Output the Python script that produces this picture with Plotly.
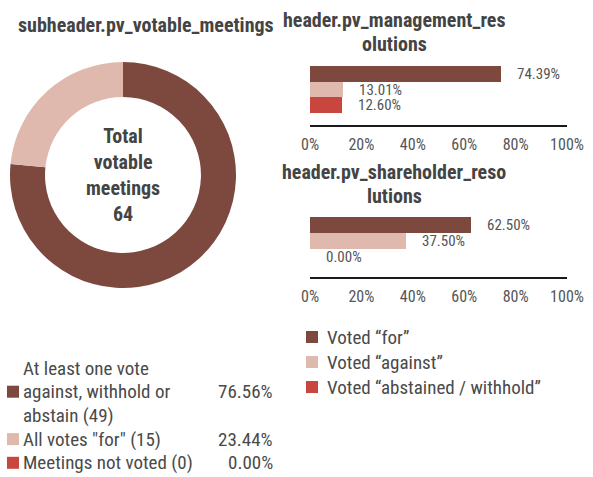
import plotly.graph_objects as go

# ---------------- data ----------------
pie_title = "subheader.pv_votable_meetings"
pie_labels = ["At least one vote<br>against, withhold or<br>abstain (49)",
              'All votes "for" (15)',
              "Meetings not voted (0)"]
pie_values = [49, 15, 0]
center_label = "Total<br>votable<br>meetings"

bar_categories = ["Voted “for”", "Voted “against”", "Voted “abstained / withhold”"]
mgmt_title = ["header.pv_management_res", "olutions"]
mgmt_values = [74.39, 13.01, 12.60]
sh_title = ["header.pv_shareholder_reso", "lutions"]
sh_values = [62.50, 37.50, 0.00]
tick_vals = [0, 20, 40, 60, 80, 100]
tick_text = ["0%", "20%", "40%", "60%", "80%", "100%"]

# ---------------- style ----------------
W, H = 593, 477
FONT = "Roboto Condensed, Liberation Sans Narrow, sans-serif"
TXT = "#4a4a4a"
colors = ["#7d493f", "#e0b9ae", "#c8463e"]


def px(x):
    return x / W


def py(y):
    return 1 - y / H


fig = go.Figure()

# donut
cx, cy, r = 123, 175, 113
fig.add_trace(go.Pie(
    values=pie_values, labels=[l.replace("<br>", " ") for l in pie_labels],
    hole=0.69, sort=False, direction="clockwise", rotation=0,
    marker=dict(colors=colors, line=dict(width=0)),
    textinfo="none", showlegend=False, automargin=False,
    domain=dict(x=[px(cx - r), px(cx + r)], y=[py(cy + r), py(cy - r)]),
))

# bar charts
ys = list(range(len(bar_categories)))
fig.add_trace(go.Bar(x=mgmt_values, y=ys, orientation="h", width=1,
                     marker=dict(color=colors, line=dict(width=0)),
                     showlegend=False, xaxis="x", yaxis="y"))
fig.add_trace(go.Bar(x=sh_values, y=ys, orientation="h", width=1,
                     marker=dict(color=colors, line=dict(width=0)),
                     showlegend=False, xaxis="x2", yaxis="y2"))

x_dom = [px(310), px(567)]
xax = dict(domain=x_dom, range=[0, 100], showgrid=False, zeroline=False,
           showline=True, linecolor="#1a1a1a", linewidth=2, automargin=False,
           tickmode="array", tickvals=tick_vals, ticktext=tick_text, ticks="",
           ticklabelstandoff=4,
           tickfont=dict(family=FONT, size=16, color="#555"), fixedrange=True)
yax = dict(range=[3.25, -0.5], showgrid=False, zeroline=False, automargin=False,
           showticklabels=False, showline=False, ticks="", fixedrange=True)

fig.update_layout(
    width=W, height=H, autosize=False,
    margin=dict(l=0, r=0, t=0, b=0, pad=0, autoexpand=False),
    paper_bgcolor="white", plot_bgcolor="white",
    font=dict(family=FONT, color=TXT),
    bargap=0,
    xaxis=dict(xax, anchor="y"),
    yaxis=dict(yax, domain=[py(125), py(66)], anchor="x"),
    xaxis2=dict(xax, anchor="y2"),
    yaxis2=dict(yax, domain=[py(277), py(217)], anchor="x2"),
)

ann = []
shapes = []

# titles
ann.append(dict(text="<b>" + pie_title + "</b>", x=px(146), y=py(25), xref="paper", yref="paper",
                showarrow=False, xanchor="center", yanchor="middle",
                font=dict(size=20, color="#444")))
for lines, y0 in ((mgmt_title, 20), (sh_title, 172)):
    for i, t in enumerate(lines):
        ann.append(dict(text="<b>" + t + "</b>", x=px(394), y=py(y0 + i * 24),
                        xref="paper", yref="paper", showarrow=False,
                        xanchor="center", yanchor="middle",
                        font=dict(size=20, color="#444")))

# donut center text
total = sum(pie_values)
ann.append(dict(text="<b>" + center_label + "<br>" + str(total) + "</b>",
                x=px(cx), y=py(cy), xref="paper", yref="paper", showarrow=False,
                xanchor="center", yanchor="middle",
                font=dict(size=20, color="#444")))

# bar value labels
for vals, xa, ya in ((mgmt_values, "x", "y"), (sh_values, "x2", "y2")):
    for i, v in enumerate(vals):
        ann.append(dict(text=f"{v:.2f}%", x=v, y=i, xref=xa, yref=ya,
                        showarrow=False, xanchor="left", yanchor="middle",
                        xshift=14, font=dict(size=15, color="#555")))

# bar legend
for i, (cat, c) in enumerate(zip(bar_categories, colors)):
    yc = 337 + i * 25
    shapes.append(dict(type="rect", xref="paper", yref="paper",
                       x0=px(306), x1=px(318), y0=py(yc + 6), y1=py(yc - 6),
                       fillcolor=c, line=dict(width=0)))
    ann.append(dict(text=cat, x=px(325), y=py(yc), xref="paper", yref="paper",
                    showarrow=False, xanchor="left", yanchor="middle",
                    font=dict(size=19, color=TXT)))

# donut legend
line_step = 23.7
yl = 368
for lab, v, c in zip(pie_labels, pie_values, colors):
    lines = lab.split("<br>")
    mid = yl + (len(lines) - 1) / 2 * line_step
    for j, t in enumerate(lines):
        ann.append(dict(text=t, x=px(21), y=py(yl + j * line_step), xref="paper", yref="paper",
                        showarrow=False, xanchor="left", yanchor="middle",
                        font=dict(size=19, color=TXT)))
    shapes.append(dict(type="rect", xref="paper", yref="paper",
                       x0=px(7), x1=px(19), y0=py(mid + 6), y1=py(mid - 6),
                       fillcolor=c, line=dict(width=0)))
    pct = v / total * 100 if total else 0
    ann.append(dict(text=f"{pct:.2f}%", x=px(275), y=py(mid), xref="paper", yref="paper",
                    showarrow=False, xanchor="right", yanchor="middle",
                    font=dict(size=19, color=TXT)))
    yl += len(lines) * line_step

fig.update_layout(annotations=ann, shapes=shapes)
fig.write_html("out.html", config={"responsive": False, "displayModeBar": False},
               post_script="document.body.style.margin='0';document.body.style.overflow='hidden';")
